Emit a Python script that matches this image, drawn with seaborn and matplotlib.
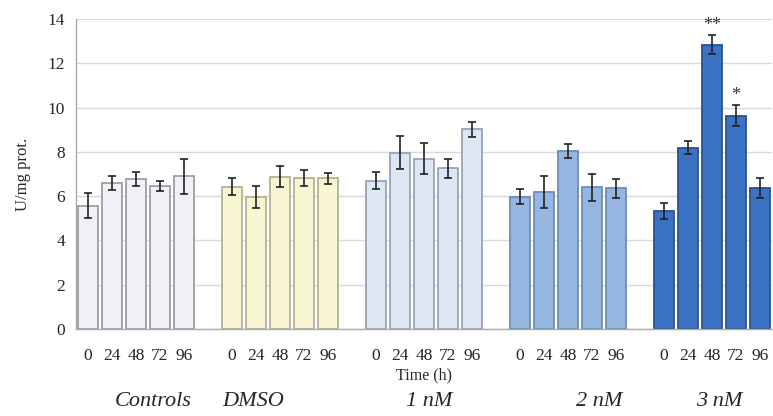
import numpy as np
import pandas as pd
import matplotlib
matplotlib.use("Agg")
import matplotlib.pyplot as plt
import seaborn as sns
from matplotlib.colors import to_rgb

groups = ["Controls", "DMSO", "1 nM", "2 nM", "3 nM"]
times = ["0", "24", "48", "72", "96"]

controls = [5.57, 6.6, 6.78, 6.46, 6.9]
controls_err = [0.57, 0.3, 0.33, 0.23, 0.8]
dmso = [6.43, 5.97, 6.88, 6.8, 6.8]
dmso_err = [0.38, 0.5, 0.47, 0.36, 0.24]
nm1 = [6.7, 7.96, 7.7, 7.26, 9.02]
nm1_err = [0.37, 0.75, 0.7, 0.42, 0.34]
nm2 = [5.98, 6.2, 8.04, 6.4, 6.35]
nm2_err = [0.33, 0.73, 0.3, 0.62, 0.42]
nm3 = [5.34, 8.19, 12.83, 9.63, 6.35]
nm3_err = [0.35, 0.3, 0.43, 0.47, 0.45]

significance = {(4, 2): "**", (4, 3): "*"}

colors = ["#f3eff6", "#f8f6d2", "#dde6f3", "#94b6e0", "#3c72c4"]
edges = ["#a09ca6", "#b4b294", "#9aa4b4", "#6f8db5", "#2a5290"]
label_x = [2.71, 6.9, 14.2, 21.3, 26.3]

vals = [controls, dmso, nm1, nm2, nm3]
errs = [controls_err, dmso_err, nm1_err, nm2_err, nm3_err]

rows = []
for gi, g in enumerate(groups):
    for ti, t in enumerate(times):
        rows.append(dict(group=g, time=t, value=vals[gi][ti], err=errs[gi][ti],
                         pos=gi * 6 + ti, gi=gi, ti=ti))
df = pd.DataFrame(rows)

sns.set_style("white")
plt.rcParams["font.family"] = ["Liberation Serif", "DejaVu Serif"]

fig = plt.figure(figsize=(7.73, 4.16), dpi=100)
ax = fig.add_axes([76 / 773, 87 / 416, 696 / 773, 310 / 416])

sns.barplot(data=df, x="pos", y="value", hue="group", palette=colors,
            native_scale=True, width=0.8, dodge=False, errorbar=None,
            legend=False, linewidth=1.3, saturation=1, ax=ax)

# per-group edge colours
face_to_edge = {tuple(np.round(to_rgb(c), 2)): e for c, e in zip(colors, edges)}
for p in ax.patches:
    key = tuple(np.round(p.get_facecolor()[:3], 2))
    if key in face_to_edge:
        p.set_edgecolor(face_to_edge[key])

ax.errorbar(df["pos"], df["value"], yerr=df["err"], fmt="none",
            ecolor="#222222", elinewidth=1.2, capsize=3.2, capthick=1.2, zorder=5)

for (gi, ti), s in significance.items():
    r = df[(df.gi == gi) & (df.ti == ti)].iloc[0]
    ax.text(r.pos, r.value + r.err + 0.05, s, ha="center", va="bottom",
            fontsize=13, color="#333333")

ax.set_xlim(-0.5, 28.5)
ax.set_ylim(0, 14)
ax.set_yticks(np.arange(0, 15, 2))
ax.yaxis.grid(True, color="#d9d9d9", linewidth=1)
ax.set_axisbelow(True)

ax.set_xticks(df["pos"])
ax.set_xticklabels(df["time"], fontsize=12.5)
minor = []
for gi in range(len(groups)):
    minor += [gi * 6 + k - 0.5 for k in range(6)]
ax.set_xticks(sorted(set(minor)), minor=True)
ax.tick_params(axis="x", which="major", length=0, pad=14)
ax.tick_params(axis="x", which="minor", length=5, color="#999999", width=1)
ax.tick_params(axis="y", length=5, color="#999999", width=1, labelsize=12.5, pad=3)

for s in ["top", "right"]:
    ax.spines[s].set_visible(False)
for s in ["left", "bottom"]:
    ax.spines[s].set_color("#aaaaaa")
    ax.spines[s].set_linewidth(1)

ax.set_xlabel("Time (h)", fontsize=11.5, labelpad=2)
ax.set_ylabel("U/mg prot.", fontsize=12, labelpad=12)

for gi, g in enumerate(groups):
    ax.text(label_x[gi], -0.235, g, transform=ax.get_xaxis_transform(),
            ha="center", va="center", fontsize=16, style="italic")

fig.savefig("out.png", dpi=100)
